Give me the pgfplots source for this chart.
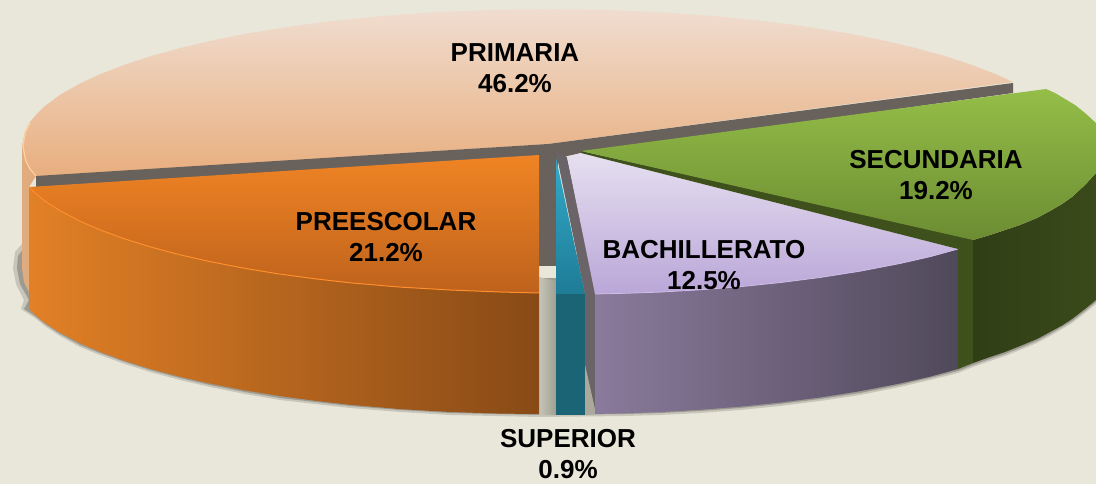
\documentclass[border=0pt]{standalone}
\usepackage{fontspec}
\setmainfont{Liberation Sans}
\usepackage{pgfplots}
\pgfplotsset{compat=1.18}

\definecolor{bg}{HTML}{E9E7D9}
\definecolor{band}{HTML}{69615B}
\definecolor{strip}{HTML}{6A6468}
\definecolor{primside}{HTML}{E0AC7E}
\definecolor{primtop}{HTML}{F0DDD0}
\definecolor{primbot}{HTML}{E8AE7E}
\definecolor{primrim}{HTML}{FFD0A0}
\definecolor{gapl}{HTML}{C4C4B8}
\definecolor{gapr}{HTML}{A0A092}
\definecolor{gapt}{HTML}{AAA99B}
\definecolor{orsidel}{HTML}{E28026}
\definecolor{orsider}{HTML}{884A16}
\definecolor{ortop}{HTML}{F08424}
\definecolor{orbot}{HTML}{BE621C}
\definecolor{orrim}{HTML}{FF8E2C}
\definecolor{teatop}{HTML}{32AACA}
\definecolor{teabot}{HTML}{1E7C96}
\definecolor{teaside}{HTML}{1A6476}
\definecolor{lilsidel}{HTML}{8A7A9C}
\definecolor{lilsidem}{HTML}{6A5E78}
\definecolor{lilsider}{HTML}{50495A}
\definecolor{liltop}{HTML}{E6E0F0}
\definecolor{lilbot}{HTML}{BAA6D8}
\definecolor{lilrim}{HTML}{CDBDE6}
\definecolor{grnedge}{HTML}{3E501C}
\definecolor{grnmid}{HTML}{303E16}
\definecolor{grnside}{HTML}{3A4A1A}
\definecolor{grntop}{HTML}{94BE48}
\definecolor{grnbot}{HTML}{6C8C32}

\tikzset{lab/.style={align=center, font=\fontsize{26}{31}\selectfont\bfseries, text=black, inner sep=0pt}}

\begin{document}
\begin{tikzpicture}
\begin{axis}[
  scale only axis, width=1096pt, height=484pt,
  xmin=0, xmax=1096, ymin=0, ymax=484, y dir=reverse,
  hide axis,
]
% background
\addplot[fill=bg, draw=none] coordinates {(0,0) (1096,0) (1096,484) (0,484)} -- cycle;

% shadow under the slices
\addplot[fill=black, draw=none, opacity=.14] coordinates {(22,244) (15,252) (13,268) (16,284) (24,300) (21,309) (35,318) (45,326) (60,336) (80,347) (100,355) (125,364) (150,372) (180,380) (210,387) (245,394) (280,400) (315,404) (350,408) (400,412) (450,415) (539,417) (625,416) (660,415) (700,413) (740,410) (780,406) (820,401) (860,395) (900,387) (930,380) (958,373) (973,367) (990,361) (1005,356) (1020,350) (1037,343) (1050,336) (1062,329) (1072,323) (1085,313) (1096,304) (1096,290) (500,250)} -- cycle;
\addplot[fill=black, draw=none, opacity=.22] coordinates {(24,248) (18,256) (17,268) (20,284) (29,300) (24,309) (35,316) (45,324) (60,334) (80,345) (100,353) (125,362) (150,370) (180,378) (210,385) (245,392) (280,398) (315,402) (350,406) (400,410) (450,413) (539,415) (625,414) (660,413) (700,411) (740,408) (780,404) (820,399) (860,393) (900,385) (930,378) (958,371) (973,365) (990,359) (1005,354) (1020,348) (1037,341) (1050,334) (1062,327) (1072,321) (1085,311) (1096,302) (1096,290) (500,250)} -- cycle;

% primaria: side then top
\addplot[fill=primside, draw=none] coordinates {(22,146) (36,176) (29,187) (29,292) (24,282) (22,268)} -- cycle;
\addplot[top color=primtop, bottom color=primbot, draw=none] coordinates {(36,177) (30,170) (25,160.6) (22,146) (25,131.4) (30,122) (36,115) (45,106) (60,94.9) (80,83.5) (100,74.2) (125,64.6) (150,56.4) (180,48.1) (210,41) (250,33) (290,26.6) (330,21.3) (380,16.2) (430,12.5) (490,9.8) (548,9) (606,9.8) (666,12.5) (716,16.2) (766,21.3) (806,26.6) (846,33) (886,41) (916,48.1) (946,56.4) (971,64.6) (996,74.2) (1013,82) (548,144)} -- cycle;
\addplot[draw=primrim, line width=1.2pt] coordinates {(36,176) (30,169) (25.5,160) (23,146) (25.5,132) (30,123)};

% grey cut faces
\addplot[fill=band, draw=none] coordinates {(36,176) (548,144) (1013,83) (1013,93) (581,153) (558,158) (556,266) (539,266) (539,156) (36,187)} -- cycle;
\addplot[fill=bg, draw=none] coordinates {(539,266) (556,266) (556,278) (539,278)} -- cycle;
\addplot[left color=gapl, right color=gapr, draw=none] coordinates {(539,277) (556,281) (556,415) (539,415)} -- cycle;

% preescolar
\addplot[left color=orsidel, right color=orsider, draw=none] coordinates {(29,187) (35,192.9) (45,201) (60,210.7) (80,221.2) (100,229.9) (125,239) (150,246.8) (180,254.8) (210,261.6) (245,268.4) (280,274.1) (315,278.8) (350,282.8) (400,287.1) (450,290) (500,292) (539,293) (539,414) (500,413.6) (450,412) (400,409.1) (350,404.8) (315,400.8) (280,396.1) (245,390.4) (210,383.6) (180,376.8) (150,368.8) (125,361) (100,351.9) (80,343.2) (60,332.7) (45,323) (35,314.9) (29,309)} -- cycle;
\addplot[top color=ortop, bottom color=orbot, draw=none] coordinates {(29,187) (539,155) (539,293) (500,292) (450,290) (400,287.1) (350,282.8) (315,278.8) (280,274.1) (245,268.4) (210,261.6) (180,254.8) (150,246.8) (125,239) (100,229.9) (80,221.2) (60,210.7) (45,201) (35,192.9)} -- cycle;
\addplot[draw=orrim, line width=1pt] coordinates {(29,187) (35,192.9) (45,201) (60,210.7) (80,221.2) (100,229.9) (125,239) (150,246.8) (180,254.8) (210,261.6) (245,268.4) (280,274.1) (315,278.8) (350,282.8) (400,287.1) (450,290) (500,292) (539,293)};

% superior
\addplot[top color=teatop, bottom color=teabot, draw=none] coordinates {(556,158) (585,294) (556,294)} -- cycle;
\addplot[fill=teaside, draw=none] coordinates {(556,294) (585,294) (585,415) (556,415)} -- cycle;

% thin grey strip beside superior
\addplot[fill=strip, draw=none] coordinates {(556,152) (567,157) (596,294) (596,414) (585,365) (585,294)} -- cycle;
\addplot[fill=gapt, draw=none] coordinates {(585,365) (596,414) (585,415)} -- cycle;

% bachillerato
\addplot[left color=lilsidel, middle color=lilsidem, right color=lilsider, draw=none] coordinates {(595,294) (625,293.3) (660,292.1) (700,289.8) (740,286.7) (780,282.6) (820,277.5) (860,271.2) (900,263.5) (930,256.7) (958,249) (958,369) (930,376.7) (900,383.5) (860,391.2) (820,397.5) (780,402.6) (740,406.7) (700,409.8) (660,412.1) (625,413.3) (595,414)} -- cycle;
\addplot[top color=liltop, bottom color=lilbot, draw=none] coordinates {(567,157) (581,153) (958,249) (930,256.7) (900,263.5) (860,271.2) (820,277.5) (780,282.6) (740,286.7) (700,289.8) (660,292.1) (625,293.3) (595,294)} -- cycle;
\addplot[draw=lilrim, line width=.8pt] coordinates {(958,249) (930,256.7) (900,263.5) (860,271.2) (820,277.5) (780,282.6) (740,286.7) (700,289.8) (660,292.1) (625,293.3) (595,294)};

% secundaria
\addplot[fill=grnedge, draw=none] coordinates {(958,249) (973,240) (973,363) (958,369)} -- cycle;
\addplot[left color=grnmid, middle color=grnmid, right color=grnside, draw=none] coordinates {(973,240) (990,235) (1005,230) (1020,225) (1037,218) (1050,211) (1062,204) (1072,197) (1085,185) (1096,173) (1096,300) (1085,309) (1072,319) (1062,325.5) (1050,332) (1037,339) (1020,346) (1005,352) (990,357) (973,363)} -- cycle;
\addplot[fill=grnedge, draw=none] coordinates {(581,151) (973,238) (973,242) (958,249) (581,153)} -- cycle;
\addplot[top color=grntop, bottom color=grnbot, draw=none] coordinates {(581,151) (1046,89) (1055,93) (1065,99) (1075,105) (1085,113) (1096,123) (1096,173) (1085,185) (1072,197) (1062,204) (1050,211) (1037,218) (1020,225) (1005,230) (990,235) (973,240)} -- cycle;

% labels
\node[lab] at (axis cs:515,68.5) {PRIMARIA\\46.2\%};
\node[lab] at (axis cs:386,237.5) {PREESCOLAR\\21.2\%};
\node[lab] at (axis cs:936,175) {SECUNDARIA\\19.2\%};
\node[lab] at (axis cs:704,265) {BACHILLERATO\\12.5\%};
\node[lab] at (axis cs:568,454.5) {SUPERIOR\\0.9\%};
\end{axis}
\end{tikzpicture}
\end{document}
